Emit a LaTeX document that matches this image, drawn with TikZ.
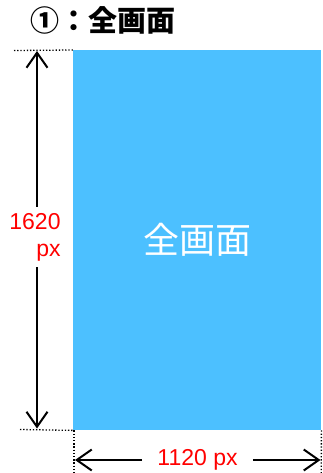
\documentclass[tikz,border=0pt]{standalone}
\usepackage{fontspec}
\setmainfont{Liberation Sans}
\newfontfamily\jpfont{Noto Sans CJK JP}
\usetikzlibrary{arrows.meta}
\definecolor{scrblue}{HTML}{4CC0FF}
\definecolor{dimred}{HTML}{FF0000}
\tikzset{
  dimarrow/.style={line width=2pt,-{Straight Barb[length=15pt,width=21pt,line width=2pt]}},
  guide/.style={line width=1.3pt,dash pattern=on 1.3pt off 1.9pt},
  dimlabel/.style={text=dimred,font=\fontsize{23pt}{27pt}\selectfont,inner sep=0pt},
}
\begin{document}
\begin{tikzpicture}[x=1pt,y=-1pt]
\useasboundingbox (0,0) rectangle (322,473);
% title
\node[anchor=west,inner sep=0pt,font=\jpfont\bfseries\fontsize{29pt}{29pt}\selectfont] (title) at (30,20) {①：全画面};
% screen
\node[fill=scrblue,anchor=north west,minimum width=248pt,minimum height=380pt,inner sep=0pt,
      text=white,font=\jpfont\fontsize{36pt}{36pt}\selectfont] (screen) at (73,50) {全画面};
% guides
\coordinate (tl) at (14,50.5);
\coordinate (bl) at (20,429.5);
\coordinate (lb) at (74,473);
\coordinate (rb) at (321.3,473);
\draw[guide] (tl) -- (screen.north west);
\draw[guide] (bl) -- (screen.south west);
\draw[guide] (screen.south west) ++(1,0) coordinate (sw1) (sw1) -- (lb);
\draw[guide] (screen.south east) -- (rb);
% vertical dimension
\coordinate (ttip) at (37,51);
\coordinate (btip) at (37,428.5);
\node[dimlabel,align=right,inner ysep=6pt] (vlabel) at (35,237) {1620\\px};
\draw[dimarrow] (ttip |- vlabel.north) -- (ttip);
\draw[dimarrow] (btip |- vlabel.south) -- (btip);
% horizontal dimension
\coordinate (ltip) at (75,460);
\coordinate (rtip) at (320.5,460);
\node[dimlabel,inner xsep=15pt] (hlabel) at (197.5,460) {1120 px};
\draw[dimarrow] (hlabel.west) -- (ltip);
\draw[dimarrow] (hlabel.east) -- (rtip);
\end{tikzpicture}
\end{document}
